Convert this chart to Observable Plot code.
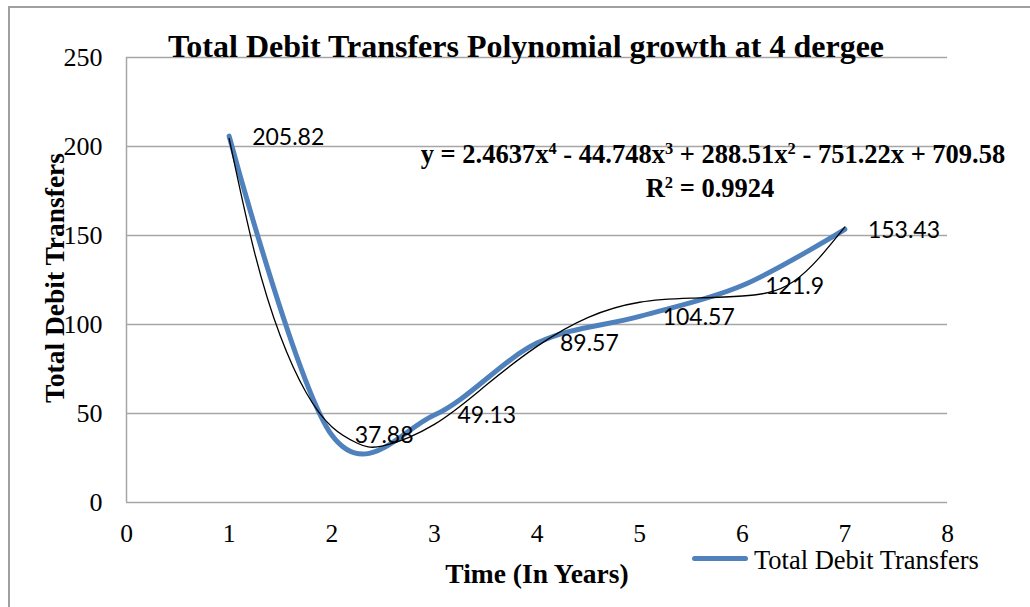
<!DOCTYPE html>
<html>
<head>
<meta charset="utf-8">
<script src="https://cdn.jsdelivr.net/npm/d3@7"></script>
<script src="https://cdn.jsdelivr.net/npm/@observablehq/plot@0.6"></script>
<style>
  html, body { margin: 0; padding: 0; background: #fff; }
  #wrap { position: relative; width: 1030px; height: 607px; overflow: hidden; }
  #border { position: absolute; left: 8px; top: 6px; width: 1040px; height: 620px; border: 2px solid #a0a0a0; box-sizing: border-box; }
  .t { position: absolute; font-family: "Liberation Serif", "Times New Roman", serif; color: #000; white-space: nowrap; }
  svg { position: absolute; left: 0; top: 0; }
</style>
</head>
<body>
<div id="wrap">
  <div id="border"></div>
</div>
<script>
// Data
const years = [1, 2, 3, 4, 5, 6, 7];
const debitTransfers = [205.82, 37.88, 49.13, 89.57, 104.57, 121.9, 153.43];
const valueLabels = ["205.82", "37.88", "49.13", "89.57", "104.57", "121.9", "153.43"];

// Polynomial trendline (agrees with the printed equation)
const trendX = [1, 1.25, 1.5, 1.75, 2, 2.25, 2.5, 3, 3.5, 4, 4.5, 5, 5.5, 6, 6.5, 7];
const trendY = [204.6, 140.0, 93.4, 61.8, 42.6, 33.3, 31.8, 43.9, 65.7, 87.7, 104.0, 112.5, 114.8, 116.0, 124.2, 154.8];

const xTicks = [0, 1, 2, 3, 4, 5, 6, 7, 8];
const yTicks = [0, 50, 100, 150, 200, 250];

const titleText = "Total Debit Transfers Polynomial growth at 4 dergee";
const xLabel = "Time (In Years)";
const yLabel = "Total Debit Transfers";
const seriesName = "Total Debit Transfers";

const series = years.map((x, i) => ({x, y: debitTransfers[i], label: valueLabels[i]}));
const trend = trendX.map((x, i) => ({x, y: trendY[i]}));

const blue = "#4f81bd";
const gridColor = "#a6a6a6";

const chart = Plot.plot({
  width: 1030,
  height: 607,
  marginLeft: 126,
  marginRight: 83,
  marginTop: 57,
  marginBottom: 105,
  style: {fontFamily: "Liberation Serif, Times New Roman, serif", fontSize: "26px", color: "#000", background: "transparent", overflow: "visible"},
  x: {domain: [0, 8], ticks: xTicks},
  y: {domain: [0, 250], ticks: yTicks},
  marks: [
    Plot.gridY(yTicks, {stroke: gridColor, strokeOpacity: 1, strokeWidth: 1.5}),
    Plot.ruleX([0], {stroke: gridColor, strokeWidth: 1.5}),
    Plot.axisX({ticks: xTicks, tickSize: 0, tickPadding: 21, fontSize: 25.5, label: null, tickFormat: d => String(d)}),
    Plot.axisY({ticks: yTicks, tickSize: 0, tickPadding: 24, fontSize: 26, label: null, tickFormat: d => String(d)}),
    Plot.line(series, {x: "x", y: "y", stroke: blue, strokeWidth: 5, curve: "cardinal", strokeLinecap: "round"}),
    Plot.line(trend, {x: "x", y: "y", stroke: "#000", strokeWidth: 1.3, curve: "natural"}),
    Plot.text(series, {x: "x", y: "y", text: "label", textAnchor: "start", dx: 23, dy: 1, fontSize: 23, fontFamily: "Lato, Open Sans, sans-serif", fill: "#000"})
  ]
});

const wrap = document.getElementById("wrap");
wrap.appendChild(chart);

function addText(html, css) {
  const d = document.createElement("div");
  d.className = "t";
  d.innerHTML = html;
  Object.assign(d.style, css);
  wrap.appendChild(d);
  return d;
}

// Title
addText(titleText, {left: "526px", top: "30px", transform: "translateX(-50%)", fontSize: "32px", fontWeight: "bold", lineHeight: "32px"});
// Equation and R²
addText("y = 2.4637x<sup>4</sup> - 44.748x<sup>3</sup> + 288.51x<sup>2</sup> - 751.22x + 709.58", {left: "713px", top: "141px", transform: "translateX(-50%)", fontSize: "26.5px", fontWeight: "bold", lineHeight: "26px"});
addText("R<sup>2</sup> = 0.9924", {left: "710px", top: "175px", transform: "translateX(-50%)", fontSize: "26.5px", fontWeight: "bold", lineHeight: "26px"});
// Axis titles
addText(xLabel, {left: "537px", top: "560px", transform: "translateX(-50%)", fontSize: "27.5px", fontWeight: "bold", lineHeight: "27.5px"});
addText(yLabel, {left: "55px", top: "278px", transform: "translate(-50%, -50%) rotate(-90deg)", fontSize: "27.5px", fontWeight: "bold", lineHeight: "27.5px"});
// Legend
const leg = document.createElement("div");
Object.assign(leg.style, {position: "absolute", left: "692px", top: "556px", width: "56px", height: "5px", background: blue, borderRadius: "3px"});
wrap.appendChild(leg);
addText(seriesName, {left: "754px", top: "547px", fontSize: "26.5px", lineHeight: "26.5px"});

document.querySelectorAll("sup").forEach(s => { s.style.fontSize = "0.62em"; s.style.verticalAlign = "0.55em"; s.style.lineHeight = "0"; });
</script>
</body>
</html>
